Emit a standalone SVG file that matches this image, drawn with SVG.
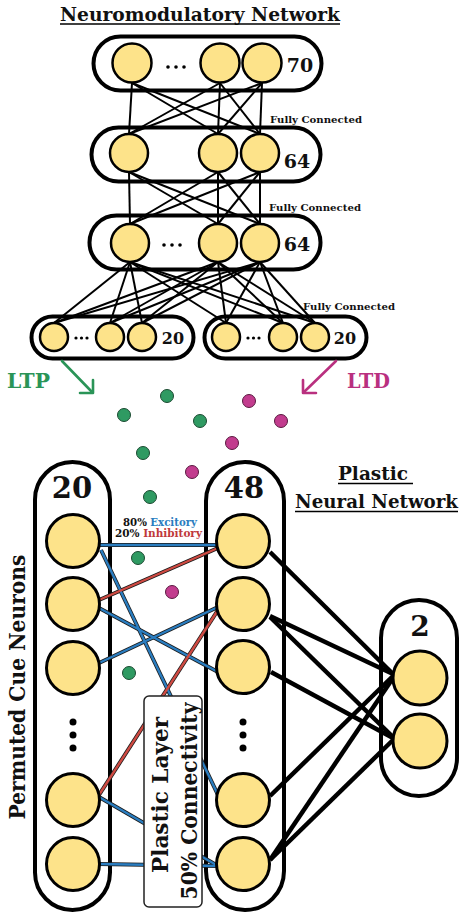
<svg xmlns="http://www.w3.org/2000/svg" width="468" height="921" viewBox="0 0 468 921">
<defs>
<style>
text{font-family:"DejaVu Serif","Liberation Serif",serif;font-weight:bold;fill:#111}
.pill{fill:#fff;stroke:#000;stroke-width:4}
.n{fill:#fde38a;stroke:#000;stroke-width:2.5}
.nb{fill:#fde38a;stroke:#000;stroke-width:3}
.w{stroke:#000;stroke-width:2;fill:none}
.k{stroke:#000;stroke-width:4.5;fill:none}
.ol{stroke:#1a1a1a;stroke-width:4;fill:none}
.bl{stroke:#2a7dc0;stroke-width:2.4;fill:none}
.rd{stroke:#cf4a42;stroke-width:2.4;fill:none}
.g{fill:#2f9a62;stroke:#1b4a31;stroke-width:1}
.m{fill:#c23c8e;stroke:#5a1a40;stroke-width:1}
.dt{fill:#000}
.fc{font-size:9.5px}
.ul{stroke:#000;stroke-width:1.5}
</style>
</defs>
<rect width="468" height="921" fill="#fff"/>

<g id="title">
<text x="60" y="21" font-size="19" textLength="280" lengthAdjust="spacingAndGlyphs">Neuromodulatory Network</text>
<line class="ul" x1="60" y1="24" x2="340" y2="24"/>
</g>

<g id="containers">
<rect id="row1" class="pill" x="93.5" y="36.5" width="228" height="54" rx="27"/>
<rect id="row2" class="pill" x="91.5" y="127.5" width="229" height="54" rx="27"/>
<rect id="row3" class="pill" x="89.5" y="215.5" width="231" height="54" rx="27"/>
<rect id="row4a" class="pill" x="31.5" y="316.5" width="162" height="42" rx="21"/>
<rect id="row4b" class="pill" x="204.5" y="316.5" width="162" height="42" rx="21"/>
<rect id="cue" class="pill" x="35" y="462" width="75" height="448" rx="37.5"/>
<rect id="hidden" class="pill" x="206" y="462" width="78" height="448" rx="39"/>
<rect id="out" class="pill" x="381" y="600" width="76" height="196" rx="38"/>
</g>

<g id="connectors">
<!-- row1 to row2 -->
<line class="w" x1="132" y1="83" x2="129" y2="134"/>
<line class="w" x1="132" y1="83" x2="218" y2="134"/>
<line class="w" x1="132" y1="83" x2="260" y2="134"/>
<line class="w" x1="220" y1="83" x2="129" y2="134"/>
<line class="w" x1="220" y1="83" x2="218" y2="134"/>
<line class="w" x1="220" y1="83" x2="260" y2="134"/>
<line class="w" x1="262" y1="83" x2="129" y2="134"/>
<line class="w" x1="262" y1="83" x2="218" y2="134"/>
<line class="w" x1="262" y1="83" x2="260" y2="134"/>
<!-- row2 to row3 -->
<line class="w" x1="129" y1="172" x2="130" y2="224"/>
<line class="w" x1="129" y1="172" x2="218" y2="224"/>
<line class="w" x1="129" y1="172" x2="260" y2="224"/>
<line class="w" x1="218" y1="172" x2="130" y2="224"/>
<line class="w" x1="218" y1="172" x2="218" y2="224"/>
<line class="w" x1="218" y1="172" x2="260" y2="224"/>
<line class="w" x1="260" y1="172" x2="130" y2="224"/>
<line class="w" x1="260" y1="172" x2="218" y2="224"/>
<line class="w" x1="260" y1="172" x2="260" y2="224"/>
<!-- row3 to row4 -->
<line class="w" x1="130" y1="262" x2="54" y2="323"/>
<line class="w" x1="130" y1="262" x2="110" y2="323"/>
<line class="w" x1="130" y1="262" x2="142" y2="323"/>
<line class="w" x1="130" y1="262" x2="226" y2="323"/>
<line class="w" x1="130" y1="262" x2="283" y2="323"/>
<line class="w" x1="130" y1="262" x2="315" y2="323"/>
<line class="w" x1="218" y1="262" x2="54" y2="323"/>
<line class="w" x1="218" y1="262" x2="110" y2="323"/>
<line class="w" x1="218" y1="262" x2="142" y2="323"/>
<line class="w" x1="218" y1="262" x2="226" y2="323"/>
<line class="w" x1="218" y1="262" x2="283" y2="323"/>
<line class="w" x1="218" y1="262" x2="315" y2="323"/>
<line class="w" x1="260" y1="262" x2="54" y2="323"/>
<line class="w" x1="260" y1="262" x2="110" y2="323"/>
<line class="w" x1="260" y1="262" x2="142" y2="323"/>
<line class="w" x1="260" y1="262" x2="226" y2="323"/>
<line class="w" x1="260" y1="262" x2="283" y2="323"/>
<line class="w" x1="260" y1="262" x2="315" y2="323"/>
<!-- LTP / LTD arrows -->
<g stroke="#2a9457" stroke-width="2.6" fill="none" stroke-linecap="round" stroke-linejoin="round">
<line x1="62" y1="361" x2="92" y2="392"/>
<polyline points="80,393 93,393 93,380"/>
</g>
<g stroke="#b9307f" stroke-width="2.6" fill="none" stroke-linecap="round" stroke-linejoin="round">
<line x1="336" y1="361" x2="304" y2="392"/>
<polyline points="316,393 303,393 303,380"/>
</g>
<!-- plastic layer: outlines -->
<g class="ol">
<line x1="99" y1="545" x2="218" y2="545"/>
<line x1="101" y1="550" x2="218" y2="795"/>
<line x1="99" y1="600" x2="218" y2="548"/>
<line x1="99" y1="608" x2="218" y2="672"/>
<line x1="99" y1="663" x2="218" y2="607"/>
<line x1="99" y1="795" x2="218" y2="610"/>
<line x1="99" y1="797" x2="218" y2="866"/>
<line x1="99" y1="864" x2="218" y2="866"/>
</g>
<line class="bl" x1="99" y1="545" x2="218" y2="545"/>
<line class="bl" x1="101" y1="550" x2="218" y2="795"/>
<line class="rd" x1="99" y1="600" x2="218" y2="548"/>
<line class="bl" x1="99" y1="608" x2="218" y2="672"/>
<line class="bl" x1="99" y1="663" x2="218" y2="607"/>
<line class="rd" x1="99" y1="795" x2="218" y2="610"/>
<line class="bl" x1="99" y1="797" x2="218" y2="866"/>
<line class="bl" x1="99" y1="864" x2="218" y2="866"/>
<!-- hidden to output -->
<line class="k" x1="270" y1="552" x2="393" y2="674"/>
<line class="k" x1="270" y1="616" x2="393" y2="674"/>
<line class="k" x1="270" y1="617" x2="393" y2="737"/>
<line class="k" x1="271" y1="672" x2="393" y2="738"/>
<line class="k" x1="270" y1="796" x2="393" y2="676"/>
<line class="k" x1="270" y1="860" x2="393" y2="678"/>
<line class="k" x1="270" y1="860" x2="393" y2="740"/>
</g>

<g id="neuromodulators">
<circle class="g" cx="167" cy="396" r="6.5"/>
<circle class="g" cx="124" cy="415" r="6.5"/>
<circle class="g" cx="200" cy="421" r="6.5"/>
<circle class="g" cx="143" cy="453" r="6.5"/>
<circle class="g" cx="150" cy="497" r="6.5"/>
<circle class="g" cx="138" cy="558" r="6.5"/>
<circle class="g" cx="129" cy="673" r="6.5"/>
<circle class="m" cx="249" cy="401" r="6.5"/>
<circle class="m" cx="281" cy="421" r="6.5"/>
<circle class="m" cx="232" cy="443" r="6.5"/>
<circle class="m" cx="192" cy="472" r="6.5"/>
<circle class="m" cx="172" cy="592" r="6.5"/>
</g>

<g id="nodes-row1">
<circle class="n" cx="132" cy="63" r="19.5"/>
<circle class="n" cx="220" cy="63" r="19.5"/>
<circle class="n" cx="262" cy="63" r="19.5"/>
<circle class="dt" cx="168" cy="67" r="1.8"/><circle class="dt" cx="176" cy="67" r="1.8"/><circle class="dt" cx="184" cy="67" r="1.8"/>
<text x="300" y="72" font-size="19" text-anchor="middle">70</text>
</g>
<g id="nodes-row2">
<circle class="n" cx="129" cy="153" r="19"/>
<circle class="n" cx="218" cy="153" r="19"/>
<circle class="n" cx="260" cy="153" r="19"/>
<text x="297" y="168" font-size="19" text-anchor="middle">64</text>
<text class="fc" x="270" y="123" textLength="92" lengthAdjust="spacingAndGlyphs">Fully Connected</text>
</g>
<g id="nodes-row3">
<circle class="n" cx="130" cy="243" r="19"/>
<circle class="n" cx="218" cy="243" r="19"/>
<circle class="n" cx="260" cy="243" r="19"/>
<circle class="dt" cx="164" cy="245" r="1.8"/><circle class="dt" cx="172" cy="245" r="1.8"/><circle class="dt" cx="180" cy="245" r="1.8"/>
<text x="297" y="251" font-size="19" text-anchor="middle">64</text>
<text class="fc" x="269" y="211" textLength="92" lengthAdjust="spacingAndGlyphs">Fully Connected</text>
</g>
<g id="nodes-row4">
<circle class="n" cx="54" cy="337" r="14"/>
<circle class="n" cx="110" cy="337" r="14"/>
<circle class="n" cx="142" cy="337" r="14"/>
<circle class="dt" cx="76" cy="338" r="1.6"/><circle class="dt" cx="81.5" cy="338" r="1.6"/><circle class="dt" cx="87" cy="338" r="1.6"/>
<text x="173" y="344" font-size="16" text-anchor="middle">20</text>
<circle class="n" cx="226" cy="337" r="14"/>
<circle class="n" cx="283" cy="337" r="14"/>
<circle class="n" cx="315" cy="337" r="14"/>
<circle class="dt" cx="248" cy="338" r="1.6"/><circle class="dt" cx="253.5" cy="338" r="1.6"/><circle class="dt" cx="259" cy="338" r="1.6"/>
<text x="345" y="344" font-size="16" text-anchor="middle">20</text>
<text class="fc" x="303" y="310" textLength="92" lengthAdjust="spacingAndGlyphs">Fully Connected</text>
</g>

<g id="ltp-ltd">
<text x="7" y="388" font-size="21" fill="#2a9457" style="fill:#2a9457" textLength="43" lengthAdjust="spacingAndGlyphs">LTP</text>
<text x="347" y="388" font-size="21" style="fill:#b9307f" textLength="43" lengthAdjust="spacingAndGlyphs">LTD</text>
</g>

<g id="cue-neurons">
<text x="72" y="498" font-size="29" text-anchor="middle">20</text>
<circle class="nb" cx="73" cy="541" r="26.5"/>
<circle class="nb" cx="73" cy="604" r="26.5"/>
<circle class="nb" cx="73" cy="668" r="26.5"/>
<circle class="dt" cx="73" cy="722" r="3.5"/><circle class="dt" cx="73" cy="735" r="3.5"/><circle class="dt" cx="73" cy="748" r="3.5"/>
<circle class="nb" cx="73" cy="800" r="26.5"/>
<circle class="nb" cx="73" cy="864" r="26.5"/>
<text transform="translate(25,687) rotate(-90)" x="0" y="0" font-size="23" text-anchor="middle" textLength="265" lengthAdjust="spacingAndGlyphs">Permuted Cue Neurons</text>
</g>

<g id="hidden-neurons">
<text x="244" y="498" font-size="29" text-anchor="middle">48</text>
<circle class="nb" cx="243" cy="541" r="26.5"/>
<circle class="nb" cx="243" cy="604" r="26.5"/>
<circle class="nb" cx="243" cy="667" r="26.5"/>
<circle class="dt" cx="243" cy="722" r="3.5"/><circle class="dt" cx="243" cy="735" r="3.5"/><circle class="dt" cx="243" cy="748" r="3.5"/>
<circle class="nb" cx="243" cy="800" r="26.5"/>
<circle class="nb" cx="243" cy="864" r="26.5"/>
</g>

<g id="output-neurons">
<text x="420" y="636" font-size="28" text-anchor="middle">2</text>
<circle class="nb" cx="420" cy="678" r="27"/>
<circle class="nb" cx="420" cy="741" r="27"/>
</g>

<g id="plastic-label">
<text x="338" y="480" font-size="18" textLength="70" lengthAdjust="spacingAndGlyphs">Plastic</text>
<line class="ul" x1="338" y1="483.5" x2="413" y2="483.5"/>
<text x="295" y="508" font-size="18" textLength="163" lengthAdjust="spacingAndGlyphs">Neural Network</text>
<line class="ul" x1="295" y1="511.5" x2="458" y2="511.5"/>
</g>

<g id="ratio-label">
<text x="123" y="526" font-size="10.5" textLength="74" lengthAdjust="spacingAndGlyphs">80% <tspan style="fill:#2a7dc0">Excitory</tspan></text>
<text x="115" y="537" font-size="10.5" textLength="87" lengthAdjust="spacingAndGlyphs">20% <tspan style="fill:#c0393b">Inhibitory</tspan></text>
</g>

<g id="plastic-layer-box">
<rect x="144" y="696" width="58" height="211" rx="5" fill="#fff" stroke="#222" stroke-width="1.5"/>
<text transform="translate(168,795) rotate(-90)" font-size="22" text-anchor="middle" textLength="156" lengthAdjust="spacingAndGlyphs">Plastic Layer</text>
<text transform="translate(197,801) rotate(-90)" font-size="22" text-anchor="middle" textLength="197" lengthAdjust="spacingAndGlyphs">50% Connectivity</text>
</g>
</svg>
